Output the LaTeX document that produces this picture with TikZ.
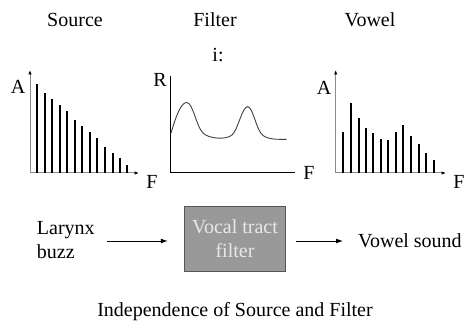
\documentclass[tikz,border=0pt]{standalone}
\usepackage{fontspec}
\setmainfont{Liberation Serif}
\usetikzlibrary{arrows.meta,positioning}
\definecolor{SFgray}{HTML}{999999}
\definecolor{SFedge}{HTML}{555555}
\definecolor{SFaxis}{HTML}{8C8C8C}
\definecolor{SFtext}{HTML}{E8E8E8}
\definecolor{SFcurve}{HTML}{404040}
\tikzset{sflabel/.style={inner sep=0pt,font=\fontsize{20}{24}\selectfont},
 sfaxis/.style={draw=SFaxis,line width=1pt,-{Latex[length=4.5pt,width=3.5pt,color=black]}},
 sfbar/.style={draw=black,line width=2pt},
 sfbox/.style={draw=SFedge,fill=SFgray,line width=0.8pt,minimum width=101.7pt,
 minimum height=65.7pt,align=center,text=SFtext,font=\fontsize{20}{24}\selectfont},
 sfarr/.style={-{Latex[length=7pt,width=5pt]},line width=0.9pt}}

\begin{document}
\begin{tikzpicture}[x=1pt,y=-1pt]
\useasboundingbox (0,0) rectangle (469,323);
% headings
\node[sflabel] (srchead) at (75,20) {Source};
\node[sflabel] (filthead) at (215,20) {Filter};
\node[sflabel] (vowhead) at (370,20) {Vowel};
\node[sflabel] (iname) at (218,55) {i:};
% source spectrum
\coordinate (s0) at (30,173);
\draw[sfaxis] (s0) -- (30,70);
\draw[sfaxis] (s0) -- (139,173);
\node[sflabel] (sA) at (18,87) {A};
\node[sflabel] (sF) at (152,182) {F};
\foreach \x/\h in {37/84,44.7/93,52/99,59.7/105,67.3/111,74.7/119.7,82.3/126,
 89.7/132,97.3/137.7,105/146.7,112.7/152.7,120/158,127.3/164.7}
 \draw[sfbar] (\x,173) -- (\x,\h);
% filter response
\coordinate (f0) at (170.7,172);
\draw[line width=0.9pt] (170.7,76) -- (f0) -- (295,172);
\node[sflabel] (fR) at (160,80) {R};
\node[sflabel] (fF) at (309,173) {F};
\draw[SFcurve,line width=0.9pt] (170.7,134) .. controls (176,116) and (181,102.5) .. (186.7,102.5)
 .. controls (193,102.5) and (196,126) .. (203,133) .. controls (209,139) and (226,140) .. (232,135)
 .. controls (238,130) and (242,106.7) .. (247.7,106.7) .. controls (253,106.7) and (256,130) .. (263,135.5)
 .. controls (269,140) and (280,139.3) .. (286.7,139.3);
% vowel spectrum
\coordinate (v0) at (335.7,173);
\draw[sfaxis] (v0) -- (335.7,70);
\draw[sfaxis] (v0) -- (446,173);
\node[sflabel] (vA) at (324,88) {A};
\node[sflabel] (vF) at (459,182) {F};
\foreach \x/\h in {342.7/132.3,351/103,358.7/118,365.7/128,373/133,380.7/139,387.7/140,
 395.7/132.3,403/125,410.7/136,418.7/144,426/153,434/160.3}
 \draw[sfbar] (\x,173) -- (\x,\h);
% source-filter chain
\node[sflabel,anchor=west,align=left] (larynx) at (36.7,240) {Larynx\\buzz};
\node[sfbox] (tract) at (235,239) {Vocal tract\\filter};
\node[sflabel,anchor=west] (sound) at (358,241) {Vowel sound};
\draw[sfarr,shorten <=12.5pt,shorten >=16pt] (larynx.east|-sound.west) -- (tract.west|-sound.west);
\draw[sfarr,shorten <=10pt,shorten >=15pt] (tract.east|-sound.west) -- (sound.west);
\node[sflabel] (caption) at (235,311.7) {Independence of Source and Filter};
\end{tikzpicture}
\end{document}
